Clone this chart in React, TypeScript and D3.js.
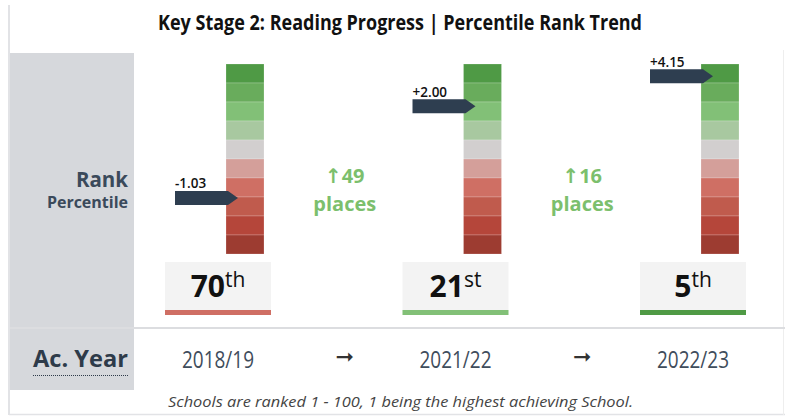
import React from "react";
import * as d3 from "d3";

const years = ["2018/19", "2021/22", "2022/23"];
const ranks = [70, 21, 5];
const suffixes = ["th", "st", "th"];
const scores = [-1.03, 2.0, 4.15];
const changes = [49, 16];
const bandColors = [
  "#4f9a45",
  "#69ac5c",
  "#82c077",
  "#a8c8a0",
  "#d2cfcf",
  "#d49f9a",
  "#cf6f64",
  "#c05b4d",
  "#b5463a",
  "#9d3c31",
];
const title = "Key Stage 2: Reading Progress | Percentile Rank Trend";
const footer = "Schools are ranked 1 - 100, 1 being the highest achieving School.";

const W = 785;
const H = 416;
const FONT = "'Open Sans', 'DejaVu Sans', sans-serif";

export default function App() {
  const x = d3.scalePoint<string>().domain(years).range([218, 693]);
  const band = d3
    .scaleBand<number>()
    .domain(d3.range(bandColors.length))
    .range([64, 254])
    .paddingInner(0);
  const rankY = d3.scaleLinear().domain([0, 100]).range([67, 254]);
  const fmt = (v: number) => (v > 0 ? "+" : v < 0 ? "-" : "") + d3.format(".2f")(Math.abs(v));
  const bandOf = (r: number) => bandColors[Math.floor((r - 1) / 10)];

  const barOff = 8;
  const barW = 38;
  const boxW = 106;

  return (
    <div style={{ position: "fixed", left: 0, top: 0 }}>
      <svg width={W} height={H} style={{ display: "block", background: "#fff" }}>
        {/* frame */}
        <line x1={9} x2={9} y1={5} y2={415} stroke="#e2e3e6" strokeWidth={2} />
        <line x1={9} x2={785} y1={414.5} y2={414.5} stroke="#e2e3e6" strokeWidth={1.5} />
        <line x1={783.5} x2={783.5} y1={50} y2={415} stroke="#eeeeee" strokeWidth={1} />

        {/* title */}
        <text
          x={158}
          y={29.5}
          fontFamily={FONT}
          fontWeight={700}
          fontSize={21}
          fill="#111"
          textLength={484}
          lengthAdjust="spacingAndGlyphs"
        >
          {title}
        </text>

        {/* left panels */}
        <rect x={10} y={53} width={124} height={274} fill="#d6d8dc" />
        <rect x={10} y={329} width={124} height={61} fill="#d6d8dc" />
        <line x1={10} x2={785} y1={328} y2={328} stroke="#dcdde0" strokeWidth={2} />

        <text x={128} y={187} textAnchor="end" fontFamily={FONT} fontWeight={700} fontSize={20.5} fill="#3b4a5b">
          Rank
        </text>
        <text x={128} y={208} textAnchor="end" fontFamily={FONT} fontWeight={700} fontSize={16} fill="#3b4a5b">
          Percentile
        </text>
        <text
          x={33}
          y={367}
          fontFamily={FONT}
          fontWeight={700}
          fontSize={23}
          fill="#2e3b4a"
          textLength={95}
          lengthAdjust="spacingAndGlyphs"
        >
          Ac. Year
        </text>
        <line x1={33} x2={128} y1={375.5} y2={375.5} stroke="#2e3b4a" strokeWidth={1} strokeDasharray="1,1" />

        {years.map((yr, i) => {
          const cx = x(yr) as number;
          const bx = cx + barOff;
          const yc = rankY(ranks[i]);
          const x0 = cx - 43;
          const arrow = `M${x0},${yc - 7}H${x0 + 53}L${x0 + 63},${yc}L${x0 + 53},${yc + 7}H${x0}Z`;
          return (
            <g key={yr}>
              {bandColors.map((c, k) => (
                <rect
                  key={k}
                  x={bx}
                  y={band(k)}
                  width={barW}
                  height={band.bandwidth()}
                  fill={c}
                  stroke="rgba(255,255,255,0.35)"
                  strokeWidth={0.6}
                />
              ))}
              <path d={arrow} fill="#2e3e50" />
              <text x={x0} y={yc - 9.5} fontFamily={FONT} fontWeight={600} fontSize={13.5} fill="#111">
                {fmt(scores[i])}
              </text>

              <rect x={cx - boxW / 2} y={262} width={boxW} height={48} fill="#f3f3f3" />
              <rect x={cx - boxW / 2} y={310} width={boxW} height={5} fill={bandOf(ranks[i])} />
              <text x={cx} y={297} textAnchor="middle" fontFamily={FONT} fill="#111">
                <tspan fontWeight={700} fontSize={30}>
                  {ranks[i]}
                </tspan>
                <tspan fontWeight={400} fontSize={21} dy={-10}>
                  {suffixes[i]}
                </tspan>
              </text>

              <text
                x={cx}
                y={368}
                textAnchor="middle"
                fontFamily={FONT}
                fontSize={23}
                fill="#3f4d5c"
                textLength={72}
                lengthAdjust="spacingAndGlyphs"
              >
                {yr}
              </text>
            </g>
          );
        })}

        {changes.map((c, i) => {
          const mx = ((x(years[i]) as number) + (x(years[i + 1]) as number)) / 2 + 8;
          return (
            <g key={i}>
              <text x={mx} y={183} textAnchor="middle" fontFamily={FONT} fontWeight={700} fontSize={20} fill="#7cbf6d">
                {"\u2191" + c}
              </text>
              <text x={mx} y={211} textAnchor="middle" fontFamily={FONT} fontWeight={700} fontSize={20} fill="#7cbf6d">
                places
              </text>
              <text x={mx} y={364} textAnchor="middle" fontFamily="'DejaVu Sans', sans-serif" fontSize={22} fill="#333">
                {"\u279E"}
              </text>
            </g>
          );
        })}

        <text
          x={400.5}
          y={407}
          textAnchor="middle"
          fontFamily={FONT}
          fontStyle="italic"
          fontSize={14.5}
          fill="#444"
          textLength={465}
          lengthAdjust="spacingAndGlyphs"
        >
          {footer}
        </text>
      </svg>
    </div>
  );
}
